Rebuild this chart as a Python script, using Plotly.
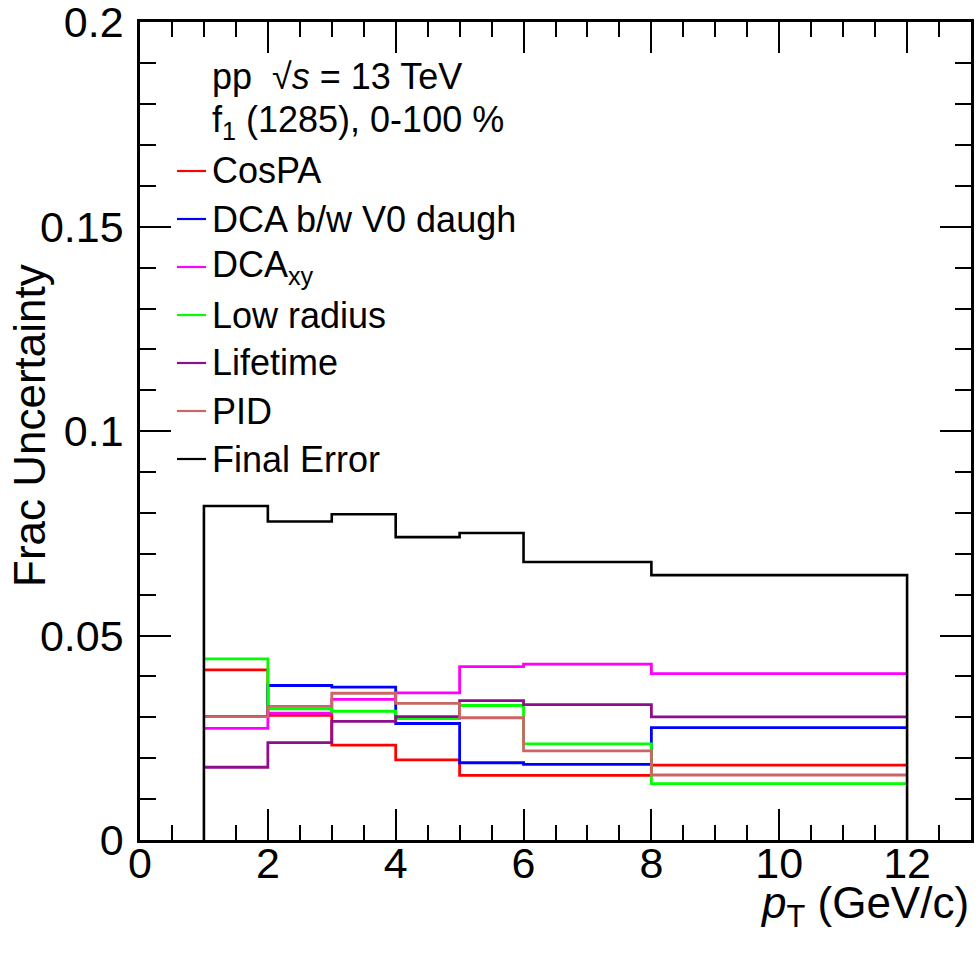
import plotly.graph_objects as go

# ---- data ----
edges = [1, 2, 3, 4, 5, 6, 8, 12]
cospa = [0.0416, 0.0305, 0.0232, 0.0196, 0.0158, 0.0158, 0.0183]
dca_v0 = [0.0302, 0.0378, 0.0374, 0.0285, 0.0189, 0.0185, 0.0275]
dca_xy = [0.0273, 0.0310, 0.0344, 0.0360, 0.0424, 0.0430, 0.0407]
low_radius = [0.0443, 0.0321, 0.0315, 0.0297, 0.0329, 0.0235, 0.0138]
lifetime = [0.0178, 0.0238, 0.0290, 0.0302, 0.0341, 0.0331, 0.0301]
pid = [0.0302, 0.0327, 0.0359, 0.0334, 0.0299, 0.0218, 0.0159]
final_err = [0.0817, 0.0779, 0.0797, 0.0741, 0.0751, 0.0680, 0.0648]

names = ["CosPA", "DCA b/w V0 daugh", "DCA<sub>xy</sub>", "Low radius", "Lifetime", "PID", "Final Error"]
series = [cospa, dca_v0, dca_xy, low_radius, lifetime, pid, final_err]
colors = ["#ff0000", "#0000ff", "#ff00ff", "#00ff00", "#8c0f8c", "#cc6666", "#000000"]

y_ticks = [0, 0.05, 0.1, 0.15, 0.2]
y_ticklabels = ["0", "0.05", "0.1", "0.15", "0.2"]
x_ticks = [0, 2, 4, 6, 8, 10, 12]

FONT = "Liberation Sans, Arial, Helvetica, sans-serif"

fig = go.Figure()

for name, vals, col in zip(names, series, colors):
    if name == "Final Error":
        xs = [edges[0]] + edges + [edges[-1]]
        ys = [0] + vals + [vals[-1], 0]
        w = 2.6
    else:
        xs = list(edges)
        ys = list(vals) + [vals[-1]]
        w = 2.8
    fig.add_trace(go.Scatter(x=xs, y=ys, mode="lines", line=dict(color=col, width=w, shape="hv"),
                             name=name, showlegend=False, hoverinfo="skip"))

# plot area geometry in pixels (for legend placement in paper coords)
L, R, T, B = 140, 971, 22, 840
W, H = R - L, B - T

def px(xp):
    return (xp - L) / W

def py(yp):
    return (B - yp) / H

annotations = []
shapes = []
headers = [("pp  √<i>s</i> = 13 TeV", 76), ("f<sub>1</sub> (1285), 0-100 %", 122)]
for txt, yc in headers:
    annotations.append(dict(text=txt, xref="paper", yref="paper", x=px(210), y=py(yc),
                            xanchor="left", yanchor="middle", showarrow=False,
                            font=dict(family=FONT, size=36, color="black")))
leg_y = [171, 219, 267, 315, 363, 411, 459]
for name, col, yc in zip(names, colors, leg_y):
    shapes.append(dict(type="line", xref="paper", yref="paper", x0=px(177), x1=px(206),
                       y0=py(yc), y1=py(yc), line=dict(color=col, width=2.2)))
    annotations.append(dict(text=name, xref="paper", yref="paper", x=px(210), y=py(yc),
                            xanchor="left", yanchor="middle", showarrow=False,
                            font=dict(family=FONT, size=36, color="black")))

# axis titles
annotations.append(dict(text="Frac Uncertainty", xref="paper", yref="paper", x=px(29), y=py(426),
                        xanchor="center", yanchor="middle", textangle=-90, showarrow=False,
                        font=dict(family=FONT, size=44, color="black")))
annotations.append(dict(text="<i>p</i><sub>T</sub> (GeV/c)", xref="paper", yref="paper", x=1.0, y=py(906),
                        xanchor="right", yanchor="middle", showarrow=False,
                        font=dict(family=FONT, size=44, color="black")))

axis_common = dict(showgrid=False, zeroline=False, showline=True, linecolor="black", linewidth=2.5,
                   mirror="ticks", ticks="inside", tickcolor="black", tickwidth=2, ticklen=31,
                   ticklabeloverflow="allow", automargin=False,
                   tickfont=dict(family=FONT, size=43, color="black"))

fig.update_xaxes(range=[0, 13], tickmode="array", tickvals=x_ticks, ticklabelstandoff=-16,
                 minor=dict(dtick=0.5, tick0=0, ticks="inside", ticklen=15, tickwidth=2, tickcolor="black"),
                 **axis_common)
fig.update_yaxes(range=[0, 0.2001], tickmode="array", tickvals=y_ticks, ticktext=y_ticklabels,
                 ticklabelstandoff=5,
                 minor=dict(dtick=0.01, tick0=0, ticks="inside", ticklen=16, tickwidth=2, tickcolor="black"),
                 **axis_common)

fig.update_layout(width=979, height=959, autosize=False,
                  margin=dict(l=L, r=979 - R, t=T, b=959 - B, pad=0, autoexpand=False),
                  paper_bgcolor="white", plot_bgcolor="white",
                  annotations=annotations, shapes=shapes, showlegend=False)

fig.write_html("out.html")
